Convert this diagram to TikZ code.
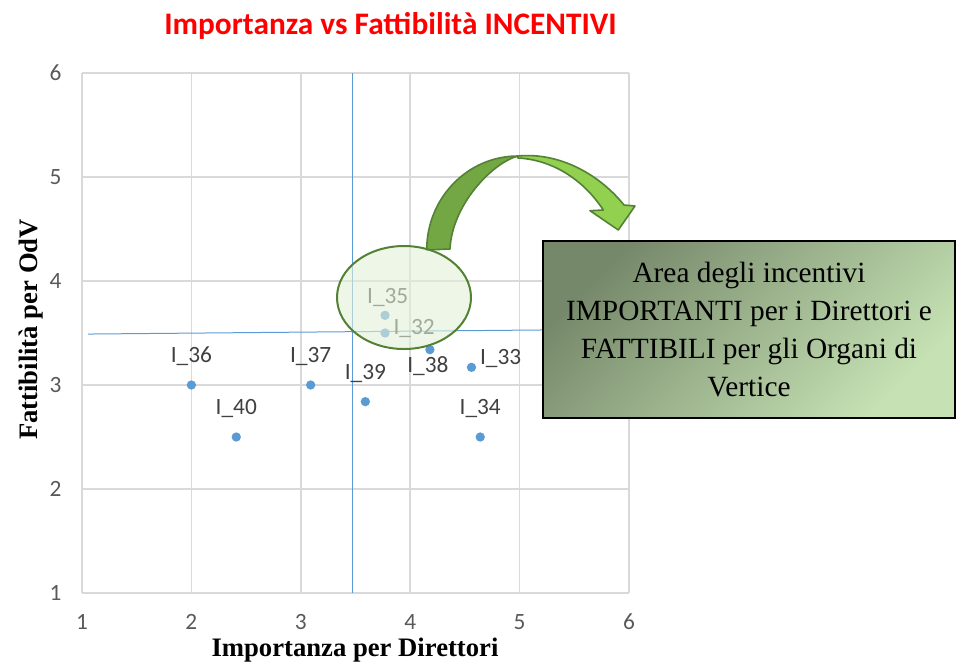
\documentclass[tikz,border=0pt]{standalone}
\usepackage{fontspec}
\newfontfamily\calibfont{Carlito}
\newfontfamily\timesfont{Liberation Serif}
\usetikzlibrary{positioning,shapes.geometric}

\definecolor{chartgrid}{HTML}{D9D9D9}
\definecolor{chartblue}{HTML}{5B9BD5}
\definecolor{tickgray}{HTML}{595959}
\definecolor{labelgray}{HTML}{404040}
\definecolor{zonegreen}{HTML}{548235}
\definecolor{zonefill}{HTML}{E2F0D9}
\definecolor{arrdark}{HTML}{72A743}
\definecolor{arrlight}{HTML}{92D050}
\definecolor{boxdark}{HTML}{76886A}
\definecolor{boxlight}{HTML}{C6E2B4}

\tikzset{
   gridline/.style={draw=chartgrid, line width=1.1pt},
   refline/.style={draw=chartblue, line width=0.75pt},
   pt/.style={circle, fill=chartblue, inner sep=0pt, minimum size=7pt},
   lbl/.style={font=\calibfont\fontsize{17.5}{20}\selectfont, text=labelgray,
      inner sep=0pt, text height=11.5pt, text depth=2pt},
   tick/.style={font=\calibfont\fontsize{17.5}{20}\selectfont, text=tickgray,
      inner sep=0pt, text height=11.2pt, text depth=0pt},
   axistitle/.style={font=\timesfont\bfseries\fontsize{20}{24}\selectfont,
      inner sep=0pt},
   arrowpart/.style={draw=zonegreen, line width=1.2pt, line join=round},
   ovalzone/.style={ellipse, draw=zonegreen, line width=1.5pt, fill=zonefill,
      fill opacity=0.6, inner sep=0pt, minimum width=100.5pt,
      minimum height=77.25pt},
   infobox/.style={draw=black, line width=1.5pt, top color=boxdark,
      bottom color=boxlight, shading angle=45, align=center,
      minimum width=309pt, minimum height=133pt, inner sep=0pt,
      font=\timesfont\fontsize{22}{28.3}\selectfont}
}

\begin{document}
\begin{tikzpicture}[x=0.75pt,y=-0.75pt]
   \useasboundingbox (0,0) rectangle (957,662);

   % title
   \node[anchor=base, inner sep=0pt, text=red,
      font=\calibfont\bfseries\fontsize{23.5}{28}\selectfont]
      (title) at (390.5,34) {Importanza vs Fattibilità INCENTIVI};

   \begin{scope}[shift={(-27.4,697)}, x=82.05pt, y=78pt]
      % grid
      \draw[gridline] (1,1) -- (6,1) (1,2) -- (6,2) (1,3) -- (6,3)
         (1,4) -- (6,4) (1,5) -- (6,5) (1,6) -- (6,6);
      \draw[gridline] (1,1) -- (1,6) (2,1) -- (2,6) (3,1) -- (3,6)
         (4,1) -- (4,6) (5,1) -- (5,6) (6,1) -- (6,6);

      % tick labels
      \node[tick] (x1) at (1,0.72) {1};
      \node[tick] (x2) at (2,0.72) {2};
      \node[tick] (x3) at (3,0.72) {3};
      \node[tick] (x4) at (4,0.72) {4};
      \node[tick] (x5) at (5,0.72) {5};
      \node[tick] (x6) at (6,0.72) {6};

      \node[tick, anchor=east] (y1) at (0.815,1) {1};
      \node[tick, anchor=east] (y2) at (0.815,2) {2};
      \node[tick, anchor=east] (y3) at (0.815,3) {3};
      \node[tick, anchor=east] (y4) at (0.815,4) {4};
      \node[tick, anchor=east] (y5) at (0.815,5) {5};
      \node[tick, anchor=east] (y6) at (0.815,6) {6};

      % mean lines
      \draw[refline] (3.468,1) -- (3.468,6);
      \draw[refline] (1.055,3.49) -- (5.3,3.53);

      % incentives
      \node[pt] (p32) at (3.77,3.50) {};
      \node[pt] (p33) at (4.56,3.17) {};
      \node[pt] (p34) at (4.64,2.50) {};
      \node[pt] (p35) at (3.77,3.67) {};
      \node[pt] (p36) at (2.00,3.00) {};
      \node[pt] (p37) at (3.09,3.00) {};
      \node[pt] (p38) at (4.18,3.34) {};
      \node[pt] (p39) at (3.59,2.84) {};
      \node[pt] (p40) at (2.41,2.50) {};

      \node[lbl, right=2.5pt of p32, yshift=3.7pt]   (l32) {I\_32};
      \node[lbl, right=2.5pt of p33, yshift=6.7pt]   (l33) {I\_33};
      \node[lbl, above=11pt of p34]                 (l34) {I\_34};
      \node[lbl, above=3pt of p35, xshift=2pt]      (l35) {I\_35};
      \node[lbl, above=11pt of p36]                 (l36) {I\_36};
      \node[lbl, above=11pt of p37]                 (l37) {I\_37};
      \node[lbl, below=1.5pt of p38, xshift=-1.5pt] (l38) {I\_38};
      \node[lbl, above=11pt of p39]                 (l39) {I\_39};
      \node[lbl, above=11pt of p40]                 (l40) {I\_40};
   \end{scope}

   % axis titles
   \node[axistitle, anchor=base] (xtitle) at (355,656)
      {Importanza per Direttori};
   \node[axistitle, anchor=base, rotate=90] (ytitle) at (37,329.5)
      {Fattibilità per OdV};

   % curved arrow
   \filldraw[arrowpart, fill=arrdark] (426.7,250)
      .. controls (426.7,198) and (467.6,156) .. (518,156)
      .. controls (492,163) and (452,205) .. (450,249) -- cycle;
   \filldraw[arrowpart, fill=arrlight] (518,156)
      .. controls (560,152) and (600,175) .. (624,205)
      -- (635,206) -- (618.3,230) -- (590,210.7) -- (603.3,210)
      .. controls (585,182) and (555,160) .. (518,158) -- cycle;

   % highlighted area
   \node[ovalzone] (zone) at (404,297.5) {};

   % comment box
   \node[infobox] (areabox) at (749,329.5)
      {Area degli incentivi\\IMPORTANTI per i Direttori e\\
       FATTIBILI per gli Organi di\\Vertice};
\end{tikzpicture}
\end{document}
